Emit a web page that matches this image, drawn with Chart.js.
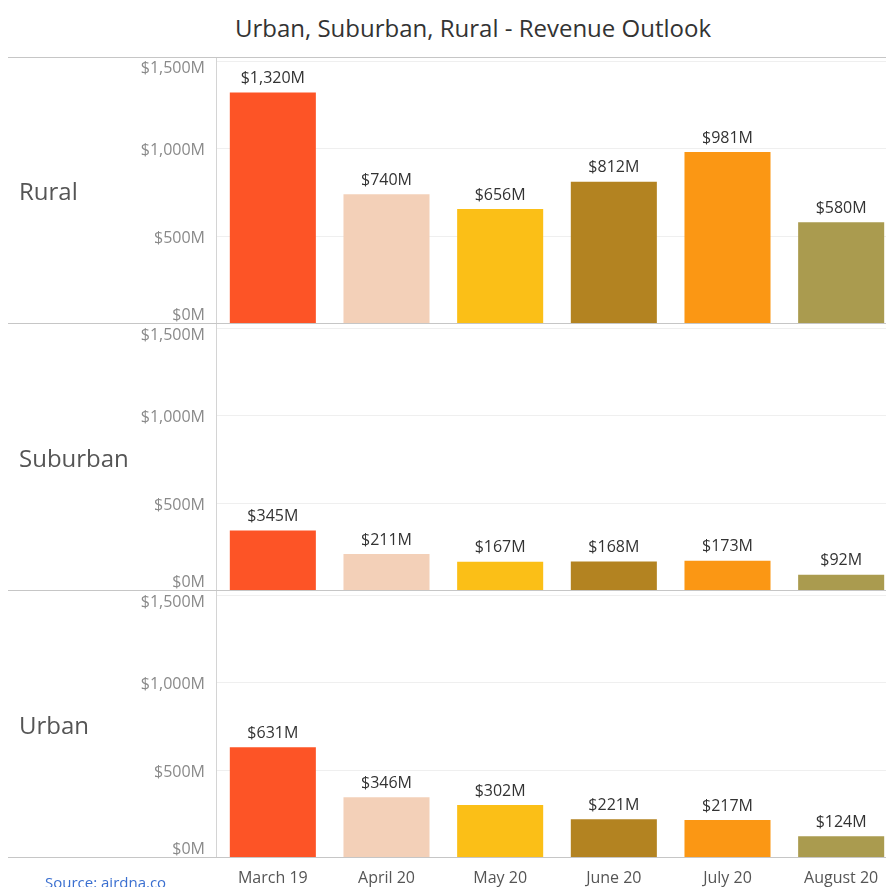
<!DOCTYPE html>
<html>
<head>
<meta charset="utf-8">
<script src="https://cdn.jsdelivr.net/npm/chart.js@4.4.0/dist/chart.umd.min.js"></script>
<style>
  html, body { margin: 0; padding: 0; background: #fff; overflow: hidden; width: 886px; height: 887px; }
  #title { position: absolute; left: 0; top: 11px; width: 946px; text-align: center; font: 24px "Open Sans"; color: #333; }
  canvas { position: absolute; left: 0; }
  #source { position: absolute; left: 45px; top: 872px; font: 15px "Open Sans"; color: #3a6fd0; }
</style>
</head>
<body>
<div id="title">Urban, Suburban, Rural - Revenue Outlook</div>
<canvas id="rural" width="898" height="267" style="top:57px"></canvas>
<canvas id="suburban" width="898" height="267" style="top:324px"></canvas>
<canvas id="urban" width="898" height="296" style="top:591px"></canvas>
<div id="source">Source: airdna.co</div>
<script>
const months = ["March 19", "April 20", "May 20", "June 20", "July 20", "August 20"];
const rural = [1320, 740, 656, 812, 981, 580];
const suburban = [345, 211, 167, 168, 173, 92];
const urban = [631, 346, 302, 221, 217, 124];
const yTicks = [0, 500, 1000, 1500];
const barColors = ["#fd5426", "#f3d0b8", "#fbbf17", "#b38321", "#fb9714", "#aa9b4f"];

const font = "Open Sans";

function money(v) {
  return "$" + v.toLocaleString("en-US") + "M";
}

// separators, axis line, tick labels, row label and value labels
const panelPlugin = {
  id: "panel",
  afterDraw(chart, args, opts) {
    const ctx = chart.ctx;
    const area = chart.chartArea;
    const y = chart.scales.y;
    ctx.save();

    ctx.strokeStyle = "#d4d4d4";
    ctx.lineWidth = 1;
    ctx.beginPath();
    ctx.moveTo(area.left + 0.5, 0);
    ctx.lineTo(area.left + 0.5, area.bottom);
    ctx.stroke();

    ctx.strokeStyle = "#c6c6c6";
    ctx.beginPath();
    ctx.moveTo(8, area.bottom - 0.5);
    ctx.lineTo(chart.width, area.bottom - 0.5);
    if (opts.topLine) {
      ctx.moveTo(8, 0.5);
      ctx.lineTo(chart.width, 0.5);
    }
    ctx.stroke();

    // y tick labels, outer ones pushed inside like tableau
    ctx.fillStyle = "#8a8a8a";
    ctx.font = "16px '" + font + "'";
    ctx.textAlign = "right";
    yTicks.forEach(v => {
      let py = y.getPixelForValue(v);
      if (v === 0) { ctx.textBaseline = "bottom"; py -= 1; }
      else if (v === 1500) { ctx.textBaseline = "top"; py -= 1; }
      else { ctx.textBaseline = "middle"; py += 2; }
      ctx.fillText(money(v), 205, py);
    });

    // row label
    ctx.fillStyle = "#555";
    ctx.font = "24px '" + font + "'";
    ctx.textAlign = "left";
    ctx.textBaseline = "middle";
    ctx.fillText(opts.label, 19, 136);

    // values above bars
    ctx.fillStyle = "#333";
    ctx.font = "16px '" + font + "'";
    ctx.textAlign = "center";
    ctx.textBaseline = "bottom";
    const meta = chart.getDatasetMeta(0);
    meta.data.forEach((bar, i) => {
      ctx.fillText(money(chart.data.datasets[0].data[i]), bar.x, bar.y - 6);
    });

    ctx.restore();
  }
};

function makePanel(id, label, values, showX, topLine) {
  return new Chart(document.getElementById(id), {
    type: "bar",
    data: {
      labels: months,
      datasets: [{
        data: values,
        backgroundColor: barColors,
        barPercentage: 0.757,
        categoryPercentage: 1
      }]
    },
    options: {
      responsive: false,
      animation: false,
      layout: { padding: { top: 4, left: 0, right: 0, bottom: 0 } },
      plugins: {
        legend: { display: false },
        tooltip: { enabled: false },
        panel: { label: label, topLine: topLine }
      },
      scales: {
        x: {
          display: showX,
          grid: { display: false },
          border: { display: false },
          ticks: { color: "#555", font: { family: font, size: 16 }, padding: 3, maxRotation: 0 },
          afterFit: s => { s.height = showX ? 29 : 0; }
        },
        y: {
          min: 0,
          max: 1500,
          ticks: { display: false, stepSize: 500 },
          grid: {
            drawTicks: false,
            color: c => c.tick && c.tick.value === 0 ? "rgba(0,0,0,0)" : "#efefef"
          },
          border: { display: false },
          afterFit: s => { s.width = 216; }
        }
      }
    },
    plugins: [panelPlugin]
  });
}

makePanel("rural", "Rural", rural, false, true);
makePanel("suburban", "Suburban", suburban, false, false);
makePanel("urban", "Urban", urban, true, false);
</script>
</body>
</html>
